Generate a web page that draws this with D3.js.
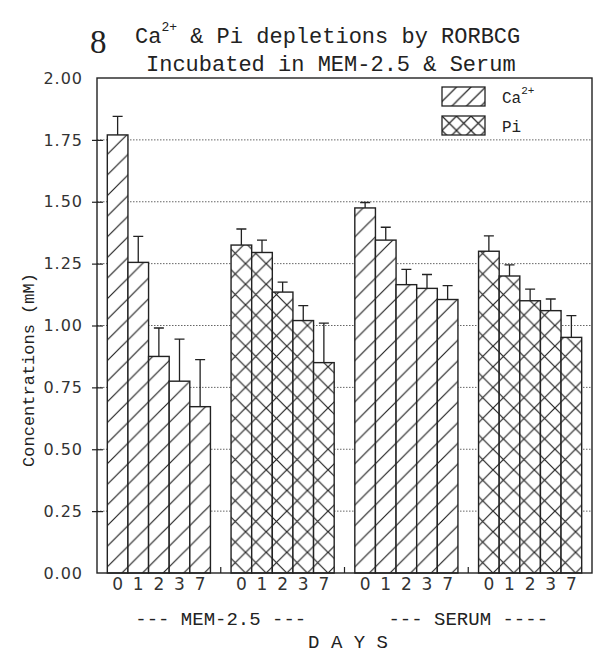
<!DOCTYPE html>
<html>
<head>
<meta charset="utf-8">
<script src="https://cdn.jsdelivr.net/npm/d3@7"></script>
<style>
  body { margin: 0; background: #fff; }
  svg { display: block; }
  .mono { font-family: "Liberation Mono", "DejaVu Sans Mono", monospace; fill: #222; }
</style>
</head>
<body>
<div id="chart"></div>
<script>
// values (mM), upward error bars only
var days = ["0", "1", "2", "3", "7"];
var groups = ["MEM Ca", "MEM Pi", "SERUM Ca", "SERUM Pi"];
var groupIon = ["ca", "pi", "ca", "pi"];
var caMem = [1.77, 1.255, 0.875, 0.775, 0.672];
var caMemErr = [0.075, 0.105, 0.115, 0.17, 0.19];
var piMem = [1.325, 1.295, 1.135, 1.02, 0.85];
var piMemErr = [0.065, 0.05, 0.04, 0.06, 0.16];
var caSerum = [1.475, 1.345, 1.165, 1.15, 1.105];
var caSerumErr = [0.022, 0.052, 0.062, 0.056, 0.056];
var piSerum = [1.30, 1.20, 1.10, 1.06, 0.952];
var piSerumErr = [0.062, 0.045, 0.047, 0.047, 0.088];
var yTicks = [0, 0.25, 0.5, 0.75, 1.0, 1.25, 1.5, 1.75, 2.0];
var mediaLabels = ["--- MEM-2.5 ---", "--- SERUM ----"];

var values = [caMem, piMem, caSerum, piSerum];
var errors = [caMemErr, piMemErr, caSerumErr, piSerumErr];

var W = 595, H = 654;
var margin = {top: 78, right: 3, bottom: 81, left: 97};
var x0 = margin.left, x1 = W - margin.right;
var y0 = margin.top, y1 = H - margin.bottom;

var svg = d3.select("#chart").append("svg")
  .attr("width", W)
  .attr("height", H);

var gx = d3.scaleBand().domain(groups).range([x0, x1]).paddingInner(0).paddingOuter(0);
var dx = d3.scaleBand().domain(days).range([0, gx.bandwidth()]).paddingInner(0).paddingOuter(0.5);
var y = d3.scaleLinear().domain([0, 2]).range([y1, y0]);

// hatch patterns
var defs = svg.append("defs");
function hatch(id, s, cross, ox, oy) {
  var p = defs.append("pattern")
    .attr("id", id)
    .attr("patternUnits", "userSpaceOnUse")
    .attr("x", ox).attr("y", oy)
    .attr("width", s).attr("height", s);
  p.append("rect").attr("width", s).attr("height", s).attr("fill", "#fff");
  var d = "M0," + s + "L" + s + ",0M-2,2L2,-2M" + (s - 2) + "," + (s + 2) + "L" + (s + 2) + "," + (s - 2);
  if (cross) d += "M0,0L" + s + "," + s + "M-2," + (s - 2) + "L2," + (s + 2) + "M" + (s - 2) + ",-2L" + (s + 2) + ",2";
  p.append("path").attr("d", d).attr("stroke", "#222").attr("stroke-width", 1.2).attr("fill", "none");
}
var s = dx.step();
hatch("ca", s, false, x0 + dx(days[0]), y1);
hatch("pi", s, true, x0 + dx(days[0]), y1);
hatch("caLeg", 14.5, false, 442, 87);
hatch("piLeg", 14.5, true, 442, 116);

// dotted grid
svg.append("g")
  .selectAll("line")
  .data(yTicks.filter(function(d) { return d > 0 && d < 2; }))
  .enter().append("line")
    .attr("x1", x0).attr("x2", x1)
    .attr("y1", function(d) { return y(d); })
    .attr("y2", function(d) { return y(d); })
    .attr("stroke", "#666")
    .attr("stroke-width", 1)
    .attr("stroke-dasharray", "1.5,1.5");

// bars
groups.forEach(function(g, gi) {
  var rows = days.map(function(d, i) { return {day: d, v: values[gi][i], e: errors[gi][i]}; });
  var grp = svg.append("g").attr("transform", "translate(" + gx(g) + ",0)");

  grp.selectAll("path.err")
    .data(rows)
    .enter().append("path")
      .attr("class", "err")
      .attr("d", function(r) {
        var cx = dx(r.day) + dx.bandwidth() / 2;
        return "M" + cx + "," + y(r.v) + "V" + y(r.v + r.e) + "M" + (cx - 5) + "," + y(r.v + r.e) + "H" + (cx + 5);
      })
      .attr("stroke", "#222")
      .attr("stroke-width", 1.3)
      .attr("fill", "none");

  grp.selectAll("rect")
    .data(rows)
    .enter().append("rect")
      .attr("x", function(r) { return dx(r.day); })
      .attr("y", function(r) { return y(r.v); })
      .attr("width", dx.bandwidth())
      .attr("height", function(r) { return y(0) - y(r.v); })
      .attr("fill", "url(#" + groupIon[gi] + ")")
      .attr("stroke", "#222")
      .attr("stroke-width", 1.4);

  // day labels
  var ax = grp.append("g")
    .attr("transform", "translate(0," + y1 + ")")
    .call(d3.axisBottom(dx).tickSize(0).tickPadding(5));
  ax.select(".domain").remove();
  ax.selectAll("text")
    .attr("font-family", "DejaVu Sans, sans-serif")
    .attr("font-size", 17)
    .attr("fill", "#333");
});

// frame
svg.append("rect")
  .attr("x", x0).attr("y", y0)
  .attr("width", x1 - x0).attr("height", y1 - y0)
  .attr("fill", "none")
  .attr("stroke", "#222")
  .attr("stroke-width", 1.4);

// small separators between groups on the baseline
svg.append("g")
  .selectAll("line")
  .data(groups.slice(1))
  .enter().append("line")
    .attr("x1", function(g) { return gx(g); })
    .attr("x2", function(g) { return gx(g); })
    .attr("y1", y1).attr("y2", y1 - 6)
    .attr("stroke", "#222")
    .attr("stroke-width", 1.2);

// y axis
var yAxis = svg.append("g")
  .attr("transform", "translate(" + x0 + ",0)")
  .call(d3.axisLeft(y).tickValues(yTicks).tickFormat(d3.format(".2f")).tickSize(5).tickPadding(9));
yAxis.select(".domain").remove();
yAxis.selectAll(".tick line").attr("x1", 6).attr("stroke", "#222").attr("stroke-width", 1.2);
yAxis.selectAll(".tick").filter(function(d) { return d === 0 || d === 2; }).select("line").remove();
yAxis.selectAll("text")
  .attr("font-family", "DejaVu Sans, sans-serif")
  .attr("font-size", 16)
  .attr("letter-spacing", 1)
  .attr("fill", "#333");

svg.append("text")
  .attr("class", "mono")
  .attr("transform", "translate(34,370) rotate(-90)")
  .attr("text-anchor", "middle")
  .attr("font-size", 17)
  .text("Concentrations (mM)");

// media labels under each pair of groups
svg.append("g")
  .selectAll("text")
  .data(mediaLabels)
  .enter().append("text")
    .attr("class", "mono")
    .attr("x", function(d, i) { return (gx(groups[2 * i]) + gx(groups[2 * i + 1]) + gx.bandwidth()) / 2; })
    .attr("y", 625)
    .attr("text-anchor", "middle")
    .attr("font-size", 19)
    .text(function(d) { return d; });

svg.append("text")
  .attr("class", "mono")
  .attr("x", 348).attr("y", 648)
  .attr("text-anchor", "middle")
  .attr("font-size", 19)
  .text("D A Y S");

// title
svg.append("text")
  .attr("x", 90).attr("y", 53)
  .attr("font-family", "Liberation Serif, serif")
  .attr("font-size", 33)
  .attr("fill", "#222")
  .text("8");
var t1 = svg.append("text").attr("class", "mono").attr("x", 135).attr("y", 43).attr("font-size", 22);
t1.append("tspan").text("Ca");
t1.append("tspan").attr("dy", -12).attr("font-size", 13).text("2+");
t1.append("tspan").attr("dy", 12).text(" & Pi depletions by RORBCG");
svg.append("text").attr("class", "mono").attr("x", 146).attr("y", 71).attr("font-size", 22)
  .text("Incubated in MEM-2.5 & Serum");

// legend
var legend = [{id: "caLeg", y: 87, label: "Ca", sup: "2+"}, {id: "piLeg", y: 116, label: "Pi", sup: ""}];
var lg = svg.append("g").selectAll("g").data(legend).enter().append("g");
lg.append("rect")
  .attr("x", 442).attr("y", function(d) { return d.y; })
  .attr("width", 43).attr("height", 19)
  .attr("fill", function(d) { return "url(#" + d.id + ")"; })
  .attr("stroke", "#222").attr("stroke-width", 1.3);
var lt = lg.append("text")
  .attr("class", "mono")
  .attr("x", 502).attr("y", function(d) { return d.y + 16; })
  .attr("font-size", 16);
lt.append("tspan").text(function(d) { return d.label; });
lt.append("tspan").attr("dy", -9).attr("font-size", 11).text(function(d) { return d.sup; });
</script>
</body>
</html>
